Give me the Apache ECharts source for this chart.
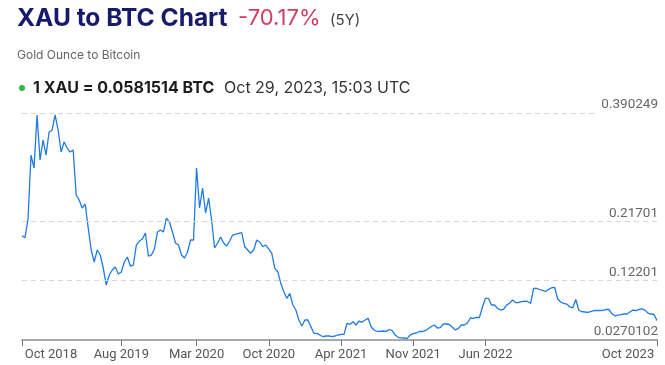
<!DOCTYPE html>
<html>
<head>
<meta charset="utf-8">
<script src="https://cdn.jsdelivr.net/npm/echarts@6/dist/echarts.min.js"></script>
<style>
html,body{margin:0;padding:0;background:#fff;}
#chart{width:665px;height:365px;}
</style>
</head>
<body>
<div id="chart"></div>
<script>
// XAU priced in BTC, roughly every 8.7 days from Oct 29, 2018 to Oct 29, 2023
const startDate = '2018-10-29';
const endDate = '2023-10-29';
const xauBtc = [
  0.1939,0.1907,0.2206,0.3230,0.3022,0.3871,0.3150,0.3470,0.3230,0.3598,
  0.3630,0.3871,0.3630,0.3278,0.3438,0.3342,0.3278,0.3310,0.2590,0.2510,
  0.2382,0.2446,0.2062,0.1710,0.1518,0.1710,0.1630,0.1422,0.1150,0.1310,
  0.1390,0.1438,0.1326,0.1358,0.1518,0.1598,0.1454,0.1470,0.1790,0.1854,
  0.1886,0.1982,0.1614,0.1630,0.1726,0.1998,0.2030,0.1998,0.2222,0.2158,
  0.1998,0.1822,0.1790,0.1630,0.1582,0.1678,0.1870,0.1870,0.3022,0.2382,
  0.2702,0.2302,0.2542,0.2190,0.1742,0.1822,0.1918,0.1822,0.1774,0.1854,
  0.1950,0.1966,0.1978,0.1987,0.1763,0.1710,0.1658,0.1710,0.1870,0.1838,
  0.1763,0.1790,0.1726,0.1658,0.1417,0.1363,0.1177,0.1043,0.0937,0.1017,
  0.0830,0.0750,0.0590,0.0494,0.0590,0.0590,0.0483,0.0377,0.0377,0.0350,
  0.0323,0.0334,0.0334,0.0323,0.0334,0.0350,0.0361,0.0361,0.0537,0.0521,
  0.0563,0.0510,0.0574,0.0553,0.0590,0.0617,0.0483,0.0430,0.0406,0.0409,
  0.0414,0.0409,0.0438,0.0419,0.0350,0.0313,0.0305,0.0302,0.0297,0.0350,
  0.0371,0.0382,0.0406,0.0406,0.0419,0.0451,0.0486,0.0510,0.0462,0.0467,
  0.0526,0.0526,0.0518,0.0473,0.0430,0.0457,0.0510,0.0510,0.0542,0.0622,
  0.0617,0.0633,0.0630,0.0798,0.0937,0.0937,0.0830,0.0830,0.0777,0.0750,
  0.0761,0.0830,0.0857,0.0910,0.0870,0.0867,0.0883,0.0891,0.0886,0.0854,
  0.1097,0.1097,0.1078,0.1065,0.1046,0.1081,0.1107,0.1110,0.0926,0.0878,
  0.0857,0.0846,0.0803,0.0782,0.0918,0.0750,0.0723,0.0718,0.0713,0.0726,
  0.0739,0.0745,0.0742,0.0745,0.0758,0.0761,0.0694,0.0657,0.0669,0.0677,
  0.0686,0.0686,0.0718,0.0750,0.0740,0.0760,0.0768,0.0748,0.0702,0.0686,
  0.0678,0.0581514
];
const xTickIndex = [0, 33, 58, 82, 106, 130, 154, 211];
const xTickLabels = ['Oct 2018','Aug 2019','Mar 2020','Oct 2020','Apr 2021','Nov 2021','Jun 2022','Oct 2023'];
const yTickValues = [0.0270102, 0.12201, 0.21701, 0.390249];
const yTickLabels = ['0.0270102', '0.12201', '0.21701', '0.390249'];

// category dates (x positions only)
const t0 = Date.parse(startDate), t1 = Date.parse(endDate);
const dates = xauBtc.map((_, i) => {
  const d = new Date(t0 + (t1 - t0) * i / (xauBtc.length - 1));
  return d.toISOString().slice(0, 10);
});
const lastIdx = xauBtc.length - 1;
const tickSet = new Set(xTickIndex);
const showTick = (idx) => tickSet.has(idx);

const chart = echarts.init(document.getElementById('chart'), null, {renderer: 'canvas'});
chart.setOption({
  animation: false,
  backgroundColor: '#fff',
  title: [
    {text: 'XAU to BTC Chart', left: 17, top: 6, padding: 0,
     textStyle: {fontFamily: 'Inter', fontWeight: 'bold', fontSize: 24.5, color: '#161a6b'}},
    {text: '-70.17%', left: 238, top: 7, padding: 0,
     textStyle: {fontFamily: 'Inter', fontWeight: 'normal', fontSize: 22, color: '#d33c5f'}},
    {text: '(5Y)', left: 330, top: 13, padding: 0,
     textStyle: {fontFamily: 'Inter', fontWeight: 'normal', fontSize: 15, color: '#444'}},
    {text: 'Gold Ounce to Bitcoin', left: 17, top: 49, padding: 0,
     textStyle: {fontFamily: 'Inter', fontWeight: 'normal', fontSize: 12, color: '#666'}},
    {text: '1 XAU = 0.0581514 BTC', left: 33, top: 80, padding: 0,
     textStyle: {fontFamily: 'Inter', fontWeight: 'bold', fontSize: 16, color: '#1d1d1f'}},
    {text: 'Oct 29, 2023, 15:03 UTC', left: 224, top: 80, padding: 0,
     textStyle: {fontFamily: 'Inter', fontWeight: 'normal', fontSize: 16, color: '#333'}}
  ],
  graphic: [
    {type: 'circle', shape: {cx: 22, cy: 88, r: 3}, style: {fill: '#2db84d'}}
  ],
  grid: {left: 22, right: 8, top: 113, bottom: 25, containLabel: false},
  xAxis: {
    type: 'category',
    data: dates,
    boundaryGap: false,
    axisLine: {lineStyle: {color: '#a8a8a8', width: 2}},
    axisTick: {show: true, interval: (idx) => showTick(idx), length: 6,
               lineStyle: {color: '#777', width: 1}},
    axisLabel: {
      interval: (idx) => showTick(idx),
      margin: 8,
      fontFamily: 'Roboto', fontSize: 13, color: '#555',
      formatter: (val, idx) => {
        const k = xTickIndex.indexOf(idx);
        if (k < 0) return '';
        if (idx === 0) return '{l|' + xTickLabels[k] + '}';
        if (idx === lastIdx) return '{r|' + xTickLabels[k] + '}';
        return xTickLabels[k];
      },
      rich: {
        l: {padding: [0, 0, 0, 58], fontFamily: 'Roboto', fontSize: 13, color: '#555'},
        r: {padding: [0, 58, 0, 0], fontFamily: 'Roboto', fontSize: 13, color: '#555'}
      }
    },
    splitLine: {show: false}
  },
  yAxis: {
    type: 'value',
    min: yTickValues[0],
    max: yTickValues[yTickValues.length - 1],
    axisLine: {show: false},
    axisTick: {show: false},
    axisLabel: {show: false},
    splitLine: {show: false}
  },
  series: [{
    type: 'line',
    data: xauBtc,
    showSymbol: false,
    symbol: 'none',
    lineStyle: {color: '#1f7ae6', width: 1.3},
    markLine: {
      silent: true,
      symbol: ['none', 'none'],
      precision: 7,
      animation: false,
      lineStyle: {type: [5, 4], color: '#d6d6d6', width: 1.2},
      label: {
        show: true, position: 'insideEndTop', distance: [-1, 1],
        fontFamily: 'Roboto', fontSize: 13.5, color: '#666',
        formatter: (p) => yTickLabels[p.dataIndex]
      },
      data: yTickValues.map((v, i) => {
        const item = {yAxis: v};
        if (i === 0) item.lineStyle = {color: 'rgba(0,0,0,0)', width: 0};
        if (i === yTickValues.length - 1) {
          item.label = {backgroundColor: '#fff', padding: [2, 0, 5, 6], distance: [-1, -4]};
        }
        return item;
      })
    }
  }]
});
</script>
</body>
</html>
